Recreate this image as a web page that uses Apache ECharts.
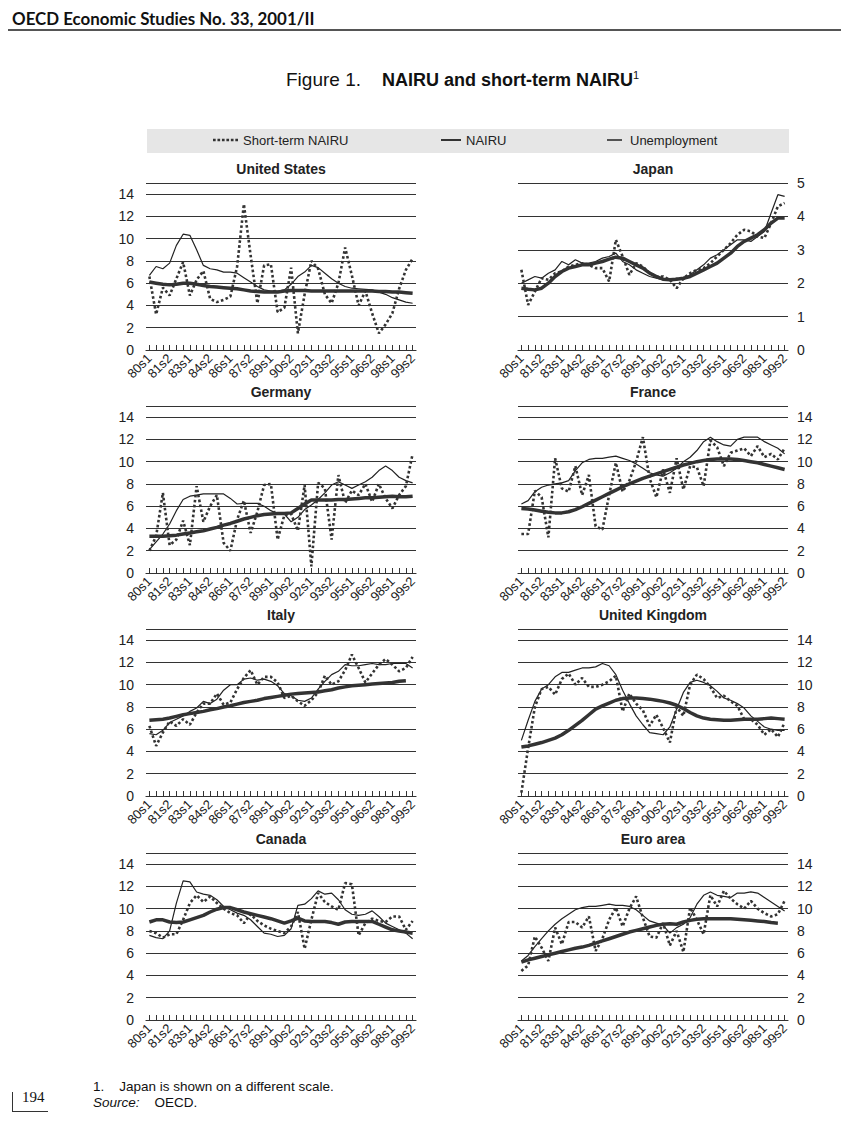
<!DOCTYPE html>
<html><head><meta charset="utf-8">
<script src="https://cdn.jsdelivr.net/npm/echarts@6/dist/echarts.min.js"></script>
<style>
body{margin:0;background:#fff;width:846px;height:1129px;position:relative;overflow:hidden;font-family:'Liberation Sans',Arial,sans-serif;color:#222}
#chart{position:absolute;left:0;top:0;width:846px;height:1129px;z-index:2}
.abs{position:absolute;white-space:nowrap}
#hdr{left:12px;top:8px;font-family:'Lato','Open Sans',sans-serif;font-weight:bold;font-size:16.9px;color:#111}
#hdrline{left:8px;top:29px;width:833px;height:0;border-top:2px solid #555}
#ttl{left:286px;top:69px;font-size:19px;color:#111}
#ttl b{margin-left:21px;font-size:18px}
#ttl sup{font-size:11px;vertical-align:7px;font-weight:normal}
#legbox{left:147px;top:129px;width:642px;height:24px;background:#e6e6e6;z-index:1}
#fn1{left:93px;top:1079px;font-size:13.5px;color:#111}
#fn2{left:93px;top:1095px;font-size:13.5px;color:#111}
#pg{left:22px;top:1089px;font-family:'Liberation Serif','DejaVu Serif',serif;font-size:15px;color:#111}
#pgl1{left:12px;top:1092px;width:0;height:19px;border-left:1px solid #333}
#pgl2{left:12px;top:1111px;width:36px;height:0;border-top:1px solid #333}
</style></head>
<body>
<div id="hdr" class="abs">OECD Economic Studies No. 33, 2001/II</div>
<div id="hdrline" class="abs"></div>
<div id="ttl" class="abs">Figure 1.<b>NAIRU and short-term NAIRU<sup>1</sup></b></div>
<div id="legbox" class="abs"></div>
<div id="chart"></div>
<div id="fn1" class="abs">1.&nbsp;&nbsp;&nbsp; Japan is shown on a different scale.</div>
<div id="fn2" class="abs"><i>Source:</i>&nbsp;&nbsp;&nbsp; OECD.</div>
<div id="pgl1" class="abs"></div><div id="pgl2" class="abs"></div>
<div id="pg" class="abs">194</div>
<script>
const categories = ['80s1','80s2','81s1','81s2','82s1','82s2','83s1','83s2','84s1','84s2',
 '85s1','85s2','86s1','86s2','87s1','87s2','88s1','88s2','89s1','89s2',
 '90s1','90s2','91s1','91s2','92s1','92s2','93s1','93s2','94s1','94s2',
 '95s1','95s2','96s1','96s2','97s1','97s2','98s1','98s2','99s1','99s2'];
const seriesNames = ['Short-term NAIRU','NAIRU','Unemployment'];
const panelTitles = ['United States','Japan','Germany','France','Italy','United Kingdom','Canada','Euro area'];
const yTicksMain = [0,2,4,6,8,10,12,14];
const yTicksJapan = [0,1,2,3,4,5];

const usShort = [6.6,3.2,5.6,4.9,6.4,7.9,4.9,6.3,7.1,4.6,4.3,4.5,4.8,7.5,13.1,8.5,4.2,7.6,7.7,3.4,3.8,7.4,1.5,5.0,8.0,7.3,5.0,4.2,6.0,9.2,6.7,4.0,5.3,3.3,1.5,2.3,3.3,5.5,7.2,8.2];
const usNairu = [6.1,6.0,5.9,5.85,5.9,6.0,6.0,5.9,5.8,5.7,5.65,5.6,5.55,5.5,5.4,5.3,5.25,5.2,5.2,5.2,5.3,5.35,5.35,5.35,5.3,5.3,5.3,5.3,5.3,5.3,5.3,5.3,5.3,5.3,5.25,5.25,5.2,5.2,5.15,5.1];
const usUnemp = [6.7,7.5,7.3,7.8,9.4,10.4,10.3,9.0,7.6,7.3,7.2,7.0,7.0,6.9,6.5,6.1,5.7,5.4,5.3,5.3,5.4,5.9,6.6,7.0,7.6,7.4,6.9,6.4,6.0,5.7,5.55,5.5,5.45,5.4,5.2,5.0,4.7,4.5,4.3,4.2];

const jpShort = [2.4,1.35,1.75,2.15,2.1,2.3,2.35,2.5,2.55,2.6,2.55,2.45,2.45,2.05,3.3,2.8,2.25,2.6,2.5,2.3,2.2,2.2,2.1,1.85,2.15,2.3,2.4,2.45,2.6,2.8,3.0,3.2,3.45,3.6,3.55,3.4,3.35,3.8,4.3,4.4];
const jpNairu = [1.85,1.82,1.8,1.85,2.0,2.2,2.35,2.45,2.5,2.55,2.55,2.6,2.65,2.72,2.78,2.75,2.65,2.55,2.45,2.3,2.2,2.12,2.1,2.12,2.15,2.2,2.3,2.4,2.5,2.6,2.75,2.9,3.1,3.25,3.35,3.45,3.6,3.8,3.95,3.95];
const jpUnemp = [2.0,2.1,2.2,2.15,2.3,2.4,2.65,2.55,2.7,2.6,2.6,2.65,2.75,2.8,2.9,2.65,2.55,2.4,2.3,2.2,2.15,2.1,2.1,2.15,2.1,2.25,2.4,2.55,2.75,2.85,3.0,3.15,3.3,3.3,3.25,3.4,3.55,4.1,4.65,4.6];

const deShort = [2.0,3.3,7.2,2.5,3.0,4.7,2.5,7.8,4.6,6.0,7.0,2.7,2.0,4.8,6.5,3.6,5.5,7.9,8.0,3.0,5.2,5.3,3.8,7.9,0.6,8.1,7.6,3.0,8.8,6.3,7.4,7.0,8.0,6.4,8.0,6.7,5.8,7.0,7.8,10.7];
const deNairu = [3.3,3.3,3.3,3.35,3.4,3.5,3.6,3.7,3.8,3.95,4.1,4.3,4.45,4.65,4.85,5.0,5.15,5.25,5.3,5.35,5.35,5.4,5.8,6.2,6.55,6.55,6.55,6.55,6.6,6.6,6.65,6.7,6.75,6.75,6.8,6.85,6.9,6.85,6.85,6.9];
const deUnemp = [2.1,2.8,3.5,4.4,5.6,6.6,6.9,7.0,7.1,7.1,7.1,7.1,6.7,6.2,6.25,6.25,6.25,6.0,5.6,5.3,5.3,4.6,5.0,5.7,6.1,6.6,7.2,7.9,8.2,7.9,7.6,7.9,8.2,8.6,9.2,9.6,9.2,8.6,8.3,8.1];

const frShort = [3.5,3.5,7.4,6.8,3.2,10.3,7.6,7.3,9.6,7.0,8.8,4.2,3.9,7.0,9.9,7.3,8.3,10.0,12.2,8.5,6.8,9.3,7.2,10.3,7.5,9.6,9.5,7.8,11.9,11.3,9.6,10.8,11.0,11.2,10.5,11.4,10.4,10.7,10.2,11.2];
const frNairu = [5.8,5.75,5.65,5.55,5.45,5.4,5.4,5.5,5.7,5.95,6.25,6.55,6.85,7.15,7.45,7.75,8.0,8.25,8.5,8.7,8.9,9.1,9.3,9.5,9.7,9.85,10.0,10.1,10.2,10.25,10.25,10.25,10.2,10.1,10.0,9.9,9.75,9.6,9.45,9.3];
const frUnemp = [6.2,6.5,7.3,7.7,7.9,8.0,8.1,8.3,9.2,9.9,10.2,10.3,10.3,10.4,10.5,10.3,10.1,9.8,9.4,9.0,8.8,8.7,9.0,9.4,10.0,10.4,11.0,11.8,12.2,11.8,11.5,11.4,12.0,12.2,12.2,12.2,11.8,11.5,11.2,10.7];

const itShort = [6.3,4.5,5.7,6.7,6.3,6.9,6.4,7.5,8.3,8.3,9.2,8.2,8.4,9.6,10.6,11.3,10.0,10.7,10.7,10.2,8.8,9.0,8.5,8.1,8.6,9.3,10.8,10.0,10.3,11.3,12.7,11.5,10.2,11.0,11.8,12.3,11.8,11.2,11.5,12.5];
const itNairu = [6.8,6.85,6.9,7.0,7.15,7.3,7.4,7.5,7.6,7.75,7.85,8.0,8.1,8.25,8.4,8.5,8.6,8.75,8.85,8.95,9.05,9.15,9.2,9.25,9.3,9.35,9.45,9.55,9.7,9.8,9.9,9.95,10.0,10.05,10.1,10.15,10.2,10.3,10.35,null];
const itUnemp = [5.6,5.5,5.9,6.6,6.9,7.2,7.6,7.9,8.5,8.3,8.7,9.5,10.0,10.0,10.5,10.6,10.4,10.5,10.3,9.9,9.2,9.0,8.6,8.5,8.8,9.6,10.3,10.9,11.2,11.8,11.7,11.7,11.8,11.9,11.8,11.8,11.9,11.9,11.9,11.5];

const ukShort = [0.3,4.3,8.0,9.6,9.8,9.1,10.5,11.0,10.0,10.6,9.8,9.8,10.0,10.3,10.8,7.6,9.2,8.3,7.7,6.3,7.3,6.1,4.8,8.0,7.2,10.0,10.9,10.5,9.8,8.8,9.0,8.5,8.1,6.9,6.9,6.4,5.5,6.0,5.3,6.6];
const ukNairu = [4.4,4.5,4.65,4.8,5.0,5.2,5.5,5.9,6.35,6.8,7.3,7.8,8.1,8.35,8.6,8.75,8.8,8.8,8.75,8.7,8.6,8.5,8.35,8.15,7.85,7.5,7.2,7.0,6.9,6.85,6.8,6.8,6.85,6.9,6.9,6.9,6.95,7.0,6.95,6.9];
const ukUnemp = [5.0,6.8,8.5,9.6,10.0,10.7,11.1,11.1,11.3,11.5,11.5,11.6,11.9,11.7,10.9,9.5,8.3,7.2,6.4,5.7,5.6,5.5,6.2,7.8,9.3,10.2,10.4,10.2,9.9,9.4,8.8,8.6,8.3,7.9,7.2,6.7,6.2,6.0,5.9,5.9];

const caShort = [8.0,7.8,7.4,7.7,7.7,9.0,10.5,11.2,10.6,11.1,10.5,10.0,9.6,9.4,8.7,9.5,8.9,8.5,8.2,8.0,7.8,8.4,9.7,6.4,9.0,11.4,10.6,10.2,9.9,12.3,12.2,7.6,8.7,9.1,8.9,8.8,9.3,9.3,8.1,8.9];
const caNairu = [8.8,9.0,9.0,8.8,8.75,8.8,9.0,9.2,9.4,9.7,9.95,10.1,10.1,9.9,9.7,9.55,9.4,9.25,9.1,8.9,8.7,8.9,9.15,8.9,8.85,8.85,8.85,8.75,8.6,8.8,8.85,8.85,8.85,8.85,8.6,8.35,8.1,8.0,7.9,7.8];
const caUnemp = [7.6,7.4,7.3,8.0,10.5,12.5,12.4,11.5,11.3,11.2,10.8,10.2,9.9,9.6,9.4,9.0,8.4,7.8,7.7,7.5,7.6,8.2,10.3,10.4,10.9,11.6,11.3,11.4,10.8,9.9,9.5,9.4,9.5,9.8,9.3,8.7,8.4,8.1,7.8,7.3];

const euShort = [4.4,4.9,7.5,6.5,5.3,8.3,6.8,8.8,8.8,8.3,9.3,6.2,7.3,9.0,10.1,8.4,10.0,11.1,9.2,7.5,7.4,8.7,6.7,8.0,6.1,10.1,9.0,7.7,11.2,10.2,11.6,10.9,10.4,10.0,10.7,10.0,9.6,9.3,9.5,10.7];
const euNairu = [5.2,5.4,5.55,5.7,5.85,6.0,6.15,6.3,6.45,6.55,6.7,6.9,7.1,7.3,7.5,7.7,7.9,8.05,8.2,8.35,8.5,8.6,8.65,8.6,8.8,8.95,9.05,9.1,9.1,9.1,9.1,9.1,9.05,9.0,8.95,8.9,8.85,8.75,8.7,null];
const euUnemp = [5.3,5.8,6.6,7.3,8.0,8.6,9.1,9.5,9.9,10.1,10.2,10.2,10.3,10.4,10.3,10.3,10.2,9.9,9.4,8.9,8.7,8.5,7.8,8.3,8.6,9.2,10.4,11.2,11.5,11.2,11.1,11.0,11.4,11.4,11.5,11.4,11.0,10.6,10.2,9.8];

const panelData = [
  [usShort, usNairu, usUnemp], [jpShort, jpNairu, jpUnemp],
  [deShort, deNairu, deUnemp], [frShort, frNairu, frUnemp],
  [itShort, itNairu, itUnemp], [ukShort, ukNairu, ukUnemp],
  [caShort, caNairu, caUnemp], [euShort, euNairu, euUnemp]
];

const chart = echarts.init(document.getElementById('chart'), null, {renderer:'svg'});
const LEFTS = [146, 518], TOPS = [183, 406, 629, 853], W = 270, H = 167;
const INK = '#333';
const narrow = "'Liberation Sans Narrow','Liberation Sans',Arial,sans-serif";
const grid = [], xAxis = [], yAxis = [], series = [], title = [];
panelTitles.forEach((name, p) => {
  const col = p % 2, row = Math.floor(p / 2);
  const left = LEFTS[col], top = TOPS[row];
  const isJp = name === 'Japan';
  const ticks = isJp ? yTicksJapan : yTicksMain;
  const step = ticks[1] - ticks[0];
  const ymax = isJp ? ticks[ticks.length-1] : ticks[ticks.length-1] + 1;
  grid.push({left: left, top: top, width: W, height: H});
  title.push({text: name, left: left + W/2, top: top - 21, textAlign: 'center', padding: 0,
    textStyle: {fontSize: 14, fontWeight: 'bold', color: '#222', fontFamily: "'Liberation Sans',Arial,sans-serif"}});
  xAxis.push({type: 'category', gridIndex: p, data: categories, boundaryGap: true,
    axisLine: {show: true, lineStyle: {color: INK, width: 1.2}},
    axisTick: {show: true, inside: true, length: 5, interval: 0, alignWithLabel: true, lineStyle: {color: INK}},
    axisLabel: {interval: 2, rotate: 45, margin: 6, fontSize: 13, color: '#222', fontFamily: narrow},
    splitLine: {show: false}});
  yAxis.push({type: 'value', gridIndex: p, min: 0, max: ymax, interval: step,
    position: col === 0 ? 'left' : 'right',
    axisLine: {show: false}, axisTick: {show: false},
    axisLabel: {margin: col === 0 ? 12 : 9, fontSize: 14, color: '#222', fontFamily: narrow,
      formatter: v => (ticks.indexOf(v) >= 0 ? String(v) : '')},
    splitLine: {show: true, lineStyle: {color: INK, width: 1}}});
  const [s, n, u] = panelData[p];
  series.push({name: seriesNames[2], type: 'line', xAxisIndex: p, yAxisIndex: p, data: u,
    symbol: 'none', itemStyle: {color: INK}, lineStyle: {color: '#222', width: 1.2}, z: 3});
  series.push({name: seriesNames[1], type: 'line', xAxisIndex: p, yAxisIndex: p, data: n,
    symbol: 'none', itemStyle: {color: INK}, lineStyle: {color: INK, width: 3.5}, z: 4});
  series.push({name: seriesNames[0], type: 'line', xAxisIndex: p, yAxisIndex: p, data: s,
    symbol: 'none', itemStyle: {color: INK}, lineStyle: {color: INK, width: 2.6, type: [2.6, 2.4]}, z: 5});
});
const legText = {fontSize: 13, color: '#222', fontFamily: "'Liberation Sans',Arial,sans-serif"};
const dotIcon = 'path://M0,0h3v3h-3zM5,0h3v3h-3zM10,0h3v3h-3zM15,0h3v3h-3zM20,0h3v3h-3zM25,0h3v3h-3z';
const barIcon = 'path://M0,0h10v1h-10z';
const legend = [
  {left: 213, top: 133.5, padding: 0, itemWidth: 25, itemHeight: 3, selectedMode: false, textStyle: legText,
   data: [{name: seriesNames[0], icon: dotIcon, itemStyle: {color: INK}}]},
  {left: 441, top: 133.5, padding: 0, itemWidth: 20, itemHeight: 4, selectedMode: false, textStyle: legText,
   data: [{name: seriesNames[1], icon: barIcon, itemStyle: {color: INK}}]},
  {left: 607, top: 133.5, padding: 0, itemWidth: 21, itemHeight: 1.5, selectedMode: false, textStyle: legText,
   data: [{name: seriesNames[2], icon: barIcon, itemStyle: {color: '#222'}}]}
];
chart.setOption({animation: false, backgroundColor: 'transparent', title, legend, grid, xAxis, yAxis, series});
</script>
</body></html>
